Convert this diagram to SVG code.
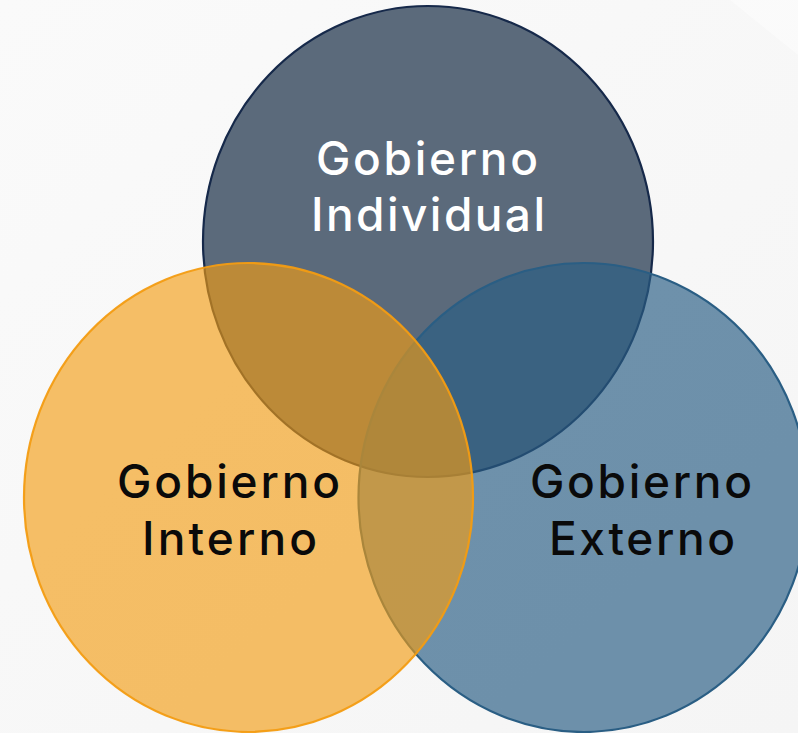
<svg xmlns="http://www.w3.org/2000/svg" width="798" height="733" viewBox="0 0 798 733">
  <defs>
    <linearGradient id="bg" x1="0" y1="0" x2="1" y2="1">
      <stop offset="0" stop-color="#fafafa"/>
      <stop offset="1" stop-color="#f5f5f5"/>
    </linearGradient>
  </defs>
  <style>
    .lbl { font-family: Inter, "Open Sans", "Liberation Sans", sans-serif; font-size: 46px; font-weight: 500; text-anchor: middle; }
    .dark { fill: #0a0a0a; }
    .light { fill: #ffffff; }
  </style>
  <rect x="0" y="0" width="798" height="733" fill="url(#bg)"/>
  <polygon points="730,0 798,0 798,55" fill="#ffffff" opacity="0.4"/>

  <g id="node-individual">
    <ellipse cx="428" cy="241.5" rx="225" ry="235.5" fill="#5b6a7b" stroke="#16294a" stroke-width="2.2"/>
  </g>
  <g id="node-externo">
    <ellipse cx="583.5" cy="497.5" rx="225" ry="234.5" fill="#2a5e84" fill-opacity="0.67" stroke="#2a5e84" stroke-width="2.2"/>
  </g>
  <g id="node-interno">
    <ellipse cx="248.5" cy="497.5" rx="224.5" ry="234.5" fill="#f39c12" fill-opacity="0.64" stroke="#f39c12" stroke-opacity="0.95" stroke-width="2.2"/>
  </g>

  <g id="labels">
    <text class="lbl light" x="427" y="175" textLength="222" lengthAdjust="spacing">Gobierno</text>
    <text class="lbl light" x="428" y="231" textLength="234" lengthAdjust="spacing">Individual</text>
    <text class="lbl dark" x="228.5" y="498" textLength="223" lengthAdjust="spacing">Gobierno</text>
    <text class="lbl dark" x="229.5" y="555" textLength="175" lengthAdjust="spacing">Interno</text>
    <text class="lbl dark" x="641" y="498" textLength="222" lengthAdjust="spacing">Gobierno</text>
    <text class="lbl dark" x="642" y="555" textLength="186" lengthAdjust="spacing">Externo</text>
  </g>
  <g id="connectors"/>
</svg>
